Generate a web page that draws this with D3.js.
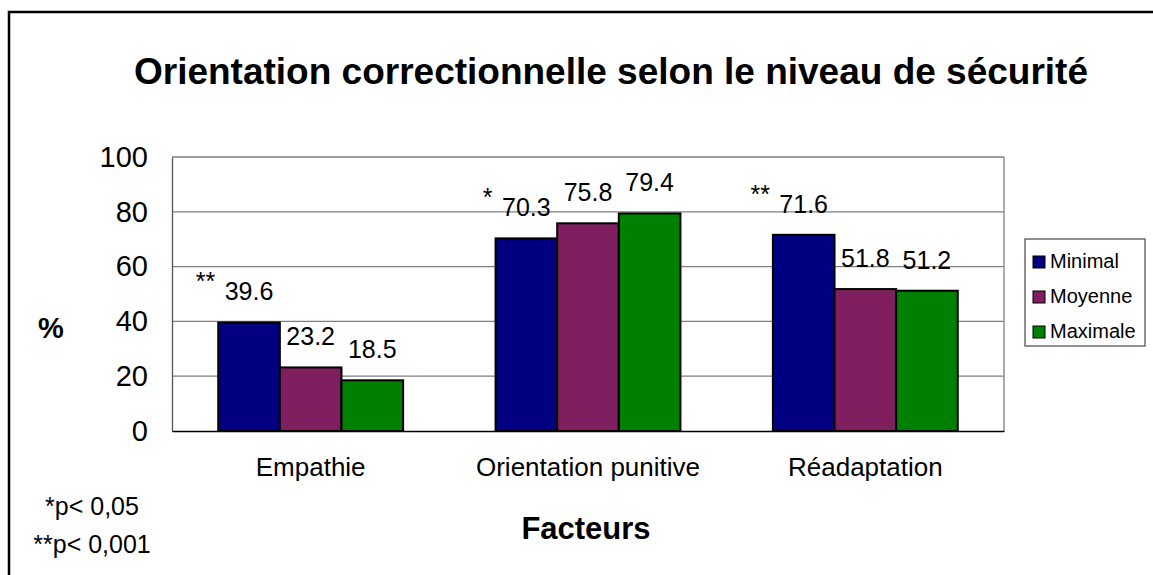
<!DOCTYPE html>
<html>
<head>
<meta charset="utf-8">
<script src="https://cdn.jsdelivr.net/npm/d3@7"></script>
<style>
  body { margin: 0; background: #fff; }
  text { font-family: Arial, "Liberation Sans", sans-serif; fill: #000; }
</style>
</head>
<body>
<div class="chart-box"></div>
<script>
let width = 1153, height = 575;

// data
let categories = ["Empathie", "Orientation punitive", "Réadaptation"];
let series = ["Minimal", "Moyenne", "Maximale"];
let minimal = [39.6, 70.3, 71.6];
let moyenne = [23.2, 75.8, 51.8];
let maximale = [18.5, 79.4, 51.2];
let significance = ["**", "*", "**"];
let yTicks = [0, 20, 40, 60, 80, 100];
let footnotes = ["*p< 0,05", "**p< 0,001"];

let colors = d3.scaleOrdinal()
  .domain(series)
  .range(["#000080", "#7f1f5f", "#008000"]);

let rows = categories.map((c, i) => ({
  cat: c,
  sig: significance[i],
  values: [minimal[i], moyenne[i], maximale[i]].map((v, j) => ({ key: series[j], value: v }))
}));

let svg = d3.select(".chart-box")
  .append("svg")
  .attr("width", width)
  .attr("height", height);

// outer frame (runs off the right and bottom edges)
svg.append("rect")
  .attr("x", 9).attr("y", 12)
  .attr("width", 1200).attr("height", 620)
  .attr("fill", "none")
  .attr("stroke", "#000")
  .attr("stroke-width", 2.5);

let plot = { left: 172, right: 1004, top: 157, bottom: 431 };

let x0 = d3.scaleBand()
  .domain(categories)
  .range([plot.left, plot.right]);

let x1 = d3.scaleBand()
  .domain(series)
  .range([0, x0.bandwidth()])
  .paddingInner(0)
  .paddingOuter(0.75);

let y = d3.scaleLinear()
  .domain([0, 100])
  .range([plot.bottom, plot.top]);

// title
svg.append("text")
  .attr("x", 611).attr("y", 84)
  .attr("text-anchor", "middle")
  .style("font-size", "37px")
  .style("font-weight", "bold")
  .text("Orientation correctionnelle selon le niveau de sécurité");

// gridlines
svg.append("g")
  .selectAll("line")
  .data(yTicks.filter(d => d > 0))
  .enter()
  .append("line")
  .attr("x1", plot.left).attr("x2", plot.right)
  .attr("y1", d => y(d)).attr("y2", d => y(d))
  .attr("stroke", "#808080")
  .attr("stroke-width", 1.3);

// plot frame right side
svg.append("line")
  .attr("x1", plot.right).attr("x2", plot.right)
  .attr("y1", plot.top).attr("y2", plot.bottom)
  .attr("stroke", "#808080").attr("stroke-width", 1.3);

// y axis
let yAxis = svg.append("g")
  .attr("transform", `translate(${plot.left},0)`)
  .call(d3.axisLeft(y).tickValues(yTicks).tickSize(0).tickPadding(24));
yAxis.select(".domain").attr("stroke", "#555").attr("stroke-width", 1.3);
yAxis.selectAll("text")
  .style("font-size", "29px")
  .attr("font-family", null);

// bars
let groups = svg.append("g")
  .selectAll("g")
  .data(rows)
  .enter()
  .append("g")
  .attr("transform", d => `translate(${x0(d.cat)},0)`);

groups.selectAll("rect")
  .data(d => d.values)
  .enter()
  .append("rect")
  .attr("x", d => x1(d.key))
  .attr("y", d => y(d.value))
  .attr("width", x1.bandwidth())
  .attr("height", d => y(0) - y(d.value))
  .attr("fill", d => colors(d.key))
  .attr("stroke", "#000")
  .attr("stroke-width", 2);

// value labels
groups.selectAll("text.val")
  .data(d => d.values)
  .enter()
  .append("text")
  .attr("class", "val")
  .attr("x", d => x1(d.key) + x1.bandwidth() / 2)
  .attr("y", d => y(d.value) - 22)
  .attr("text-anchor", "middle")
  .style("font-size", "25px")
  .text(d => d.value.toFixed(1));

// significance marks
groups.append("text")
  .attr("x", x1(series[0]) - 3)
  .attr("y", d => y(d.values[0].value) - 32)
  .attr("text-anchor", "end")
  .style("font-size", "25px")
  .text(d => d.sig);

// x axis
let xAxis = svg.append("g")
  .attr("transform", `translate(0,${plot.bottom})`)
  .call(d3.axisBottom(x0).tickSize(0).tickPadding(27));
xAxis.select(".domain").attr("stroke", "#000").attr("stroke-width", 1.5);
xAxis.selectAll("text")
  .style("font-size", "26px")
  .attr("font-family", null);

// axis titles
svg.append("text")
  .attr("x", 51).attr("y", 338)
  .attr("text-anchor", "middle")
  .style("font-size", "29px")
  .style("font-weight", "bold")
  .text("%");

svg.append("text")
  .attr("x", 586).attr("y", 539)
  .attr("text-anchor", "middle")
  .style("font-size", "31px")
  .style("font-weight", "bold")
  .text("Facteurs");

// footnotes
svg.append("g")
  .selectAll("text")
  .data(footnotes)
  .enter()
  .append("text")
  .attr("x", 92)
  .attr("y", (d, i) => 515 + i * 38)
  .attr("text-anchor", "middle")
  .style("font-size", "25px")
  .text(d => d);

// legend
let legend = svg.append("g").attr("transform", "translate(1025,239)");
legend.append("rect")
  .attr("width", 120).attr("height", 107)
  .attr("fill", "#fff")
  .attr("stroke", "#555")
  .attr("stroke-width", 1.3);

let items = legend.selectAll("g")
  .data(series)
  .enter()
  .append("g")
  .attr("transform", (d, i) => `translate(0,${22 + i * 35})`);

items.append("rect")
  .attr("x", 8).attr("y", -5)
  .attr("width", 12).attr("height", 12)
  .attr("fill", d => colors(d))
  .attr("stroke", "#000")
  .attr("stroke-width", 1);

items.append("text")
  .attr("x", 25).attr("y", 7)
  .style("font-size", "20px")
  .text(d => d);
</script>
</body>
</html>
